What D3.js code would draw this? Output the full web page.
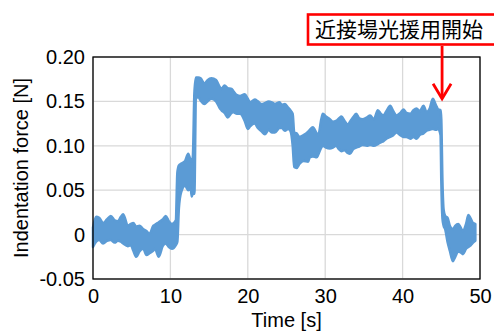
<!DOCTYPE html>
<html>
<head>
<meta charset="utf-8">
<script src="https://cdn.jsdelivr.net/npm/d3@7"></script>
<style>
  body { margin: 0; background: #fff; }
  text { font-family: "Liberation Sans", Arial, sans-serif; }
</style>
</head>
<body>
<div id="chart"></div>
<script>
// time [s] with upper / lower edge of the noisy force trace [N]
const time = [0.0,0.4,0.8,1.3,1.8,2.3,2.8,3.2,3.6,3.9,4.5,4.9,5.2,5.6,6.0,6.5,6.9,7.3,7.8,8.0,8.5,9.0,9.4,9.8,10.2,10.7,
  10.9,11.1,11.4,11.9,12.3,12.6,12.75,12.9,13.1,13.3,13.6,13.9,14.4,14.8,15.3,15.9,16.4,16.6,17.0,17.4,17.9,18.1,18.6,19.0,19.6,
  20.0,20.3,20.9,21.3,21.8,22.2,22.7,23.1,23.5,24.1,24.4,24.8,25.2,25.5,25.8,26.0,26.3,26.7,27.2,27.8,28.0,28.4,28.9,29.1,
  29.5,29.7,30.1,30.6,31.0,31.4,31.8,32.1,32.5,32.9,33.2,33.6,34.0,34.4,34.8,35.4,35.8,36.3,36.8,37.2,37.5,37.9,38.4,38.8,
  39.2,39.7,40.1,40.5,41.0,41.4,41.8,42.2,42.7,43.1,43.5,43.9,44.3,44.6,44.9,45.0,45.15,45.3,45.5,45.8,46.1,46.5,46.8,47.2,
  47.5,47.8,48.2,48.5,48.8,49.1,49.4];
const upper = [0.008,0.020,0.019,0.013,0.017,0.021,0.016,0.015,0.020,0.023,0.010,0.012,0.013,0.009,0.010,0.006,0.004,0.001,0.010,0.011,0.014,0.017,0.021,0.015,0.012,0.016,
  0.070,0.078,0.080,0.083,0.091,0.084,0.082,0.088,0.160,0.177,0.177,0.176,0.170,0.174,0.176,0.174,0.166,0.164,0.168,0.165,0.164,0.162,0.157,0.156,0.158,
  0.153,0.149,0.152,0.150,0.147,0.148,0.150,0.149,0.147,0.149,0.146,0.147,0.143,0.140,0.136,0.115,0.114,0.110,0.112,0.116,0.118,0.121,0.114,0.112,
  0.130,0.136,0.133,0.130,0.127,0.128,0.131,0.133,0.128,0.124,0.127,0.132,0.136,0.131,0.130,0.132,0.134,0.130,0.140,0.136,0.134,0.139,0.145,0.139,
  0.134,0.137,0.141,0.137,0.136,0.140,0.142,0.139,0.145,0.138,0.142,0.153,0.146,0.141,0.140,0.130,0.060,0.028,0.021,0.019,0.010,0.006,0.010,0.012,
  0.008,0.004,0.012,0.022,0.018,0.013,0.012];
const lower = [-0.014,-0.008,-0.006,-0.010,-0.007,-0.006,-0.009,-0.007,-0.008,-0.010,-0.013,-0.012,-0.018,-0.025,-0.019,-0.016,-0.023,-0.021,-0.018,-0.016,-0.025,-0.013,-0.010,-0.014,-0.016,-0.012,
  -0.008,0.030,0.048,0.055,0.050,0.054,0.043,0.046,0.046,0.153,0.155,0.151,0.147,0.150,0.153,0.150,0.142,0.140,0.137,0.132,0.137,0.138,0.136,0.136,0.128,
  0.119,0.122,0.125,0.120,0.116,0.113,0.118,0.115,0.115,0.120,0.120,0.117,0.119,0.117,0.100,0.076,0.075,0.080,0.083,0.082,0.087,0.088,0.087,0.090,
  0.098,0.100,0.098,0.097,0.098,0.100,0.096,0.094,0.095,0.092,0.091,0.096,0.098,0.099,0.101,0.100,0.101,0.100,0.102,0.104,0.105,0.108,0.110,0.112,
  0.115,0.112,0.110,0.110,0.108,0.110,0.108,0.112,0.114,0.117,0.118,0.119,0.118,0.119,0.112,0.060,0.018,0.010,0.006,-0.008,-0.018,-0.030,-0.025,-0.019,
  -0.020,-0.022,-0.016,-0.014,-0.012,-0.009,-0.007];

const xTicks = [0, 10, 20, 30, 40, 50];
const yTicks = [-0.05, 0, 0.05, 0.10, 0.15, 0.20];
const yTickLabels = ["-0.05", "0", "0.05", "0.10", "0.15", "0.20"];
const note = "近接場光援用開始";
const noteTime = 45.1;

const width = 494, height = 332;
const margin = {top: 57, right: 14, bottom: 53, left: 93};

const svg = d3.select("#chart").append("svg")
  .attr("width", width)
  .attr("height", height);

const x = d3.scaleLinear().domain([0, 50]).range([margin.left, width - margin.right]);
const y = d3.scaleLinear().domain([-0.05, 0.20]).range([height - margin.bottom, margin.top]);

// grid
svg.append("g").selectAll("line").data(xTicks).enter().append("line")
  .attr("x1", d => x(d)).attr("x2", d => x(d))
  .attr("y1", y(0.20)).attr("y2", y(-0.05))
  .attr("stroke", "#d9d9d9").attr("stroke-width", 1.3);
svg.append("g").selectAll("line").data(yTicks).enter().append("line")
  .attr("x1", x(0)).attr("x2", x(50))
  .attr("y1", d => y(d)).attr("y2", d => y(d))
  .attr("stroke", "#d9d9d9").attr("stroke-width", 1.3);

// trace band
const rows = time.map((t, i) => ({t: t, hi: upper[i], lo: lower[i]}));
const band = d3.area()
  .x(d => x(d.t))
  .y0(d => y(d.lo))
  .y1(d => y(d.hi))
  .curve(d3.curveMonotoneX);
svg.append("path")
  .datum(rows)
  .attr("d", band)
  .attr("fill", "#5b9bd5")
  .attr("stroke", "#5b9bd5")
  .attr("stroke-width", 2.5)
  .attr("stroke-linejoin", "round");

// frame
svg.append("rect")
  .attr("x", x(0)).attr("y", y(0.20))
  .attr("width", x(50) - x(0)).attr("height", y(-0.05) - y(0.20))
  .attr("fill", "none").attr("stroke", "#000").attr("stroke-width", 1.3);

// axes
const xAxis = svg.append("g")
  .attr("transform", "translate(0," + y(-0.05) + ")")
  .call(d3.axisBottom(x).tickValues(xTicks).tickSize(0).tickPadding(10));
const yAxis = svg.append("g")
  .attr("transform", "translate(" + x(0) + ",0)")
  .call(d3.axisLeft(y).tickValues(yTicks).tickSize(0).tickPadding(8)
    .tickFormat((d, i) => yTickLabels[i]));
[xAxis, yAxis].forEach(a => {
  a.select(".domain").remove();
  a.selectAll("text")
    .attr("fill", "#000")
    .style("font-size", "20px")
    .style("font-family", "'Liberation Sans', Arial, sans-serif");
});

svg.append("text")
  .attr("x", (x(0) + x(50)) / 2).attr("y", 327)
  .attr("text-anchor", "middle")
  .style("font-size", "20px")
  .text("Time [s]");

svg.append("text")
  .attr("transform", "translate(28," + ((y(0.20) + y(-0.05)) / 2) + ") rotate(-90)")
  .attr("text-anchor", "middle")
  .style("font-size", "20px")
  .text("Indentation force [N]");

// annotation
const ax = x(noteTime);
svg.append("rect")
  .attr("x", 308).attr("y", 14.5)
  .attr("width", 200).attr("height", 30)
  .attr("fill", "#fff").attr("stroke", "#ff0000").attr("stroke-width", 2.6);
svg.append("text")
  .attr("x", 315).attr("y", 37)
  .style("font-size", "21px")
  .style("font-family", "'Noto Sans CJK JP', sans-serif")
  .attr("fill", "#000")
  .text(note);
const tipY = y(0.153);
svg.append("line")
  .attr("x1", ax).attr("x2", ax)
  .attr("y1", 46).attr("y2", tipY - 1)
  .attr("stroke", "#ff0000").attr("stroke-width", 2.8);
svg.append("path")
  .attr("d", "M" + (ax - 9) + "," + (tipY - 15) + "L" + ax + "," + tipY + "L" + (ax + 9) + "," + (tipY - 15))
  .attr("fill", "none").attr("stroke", "#ff0000").attr("stroke-width", 2.8)
  .attr("stroke-linejoin", "miter");
</script>
</body>
</html>
